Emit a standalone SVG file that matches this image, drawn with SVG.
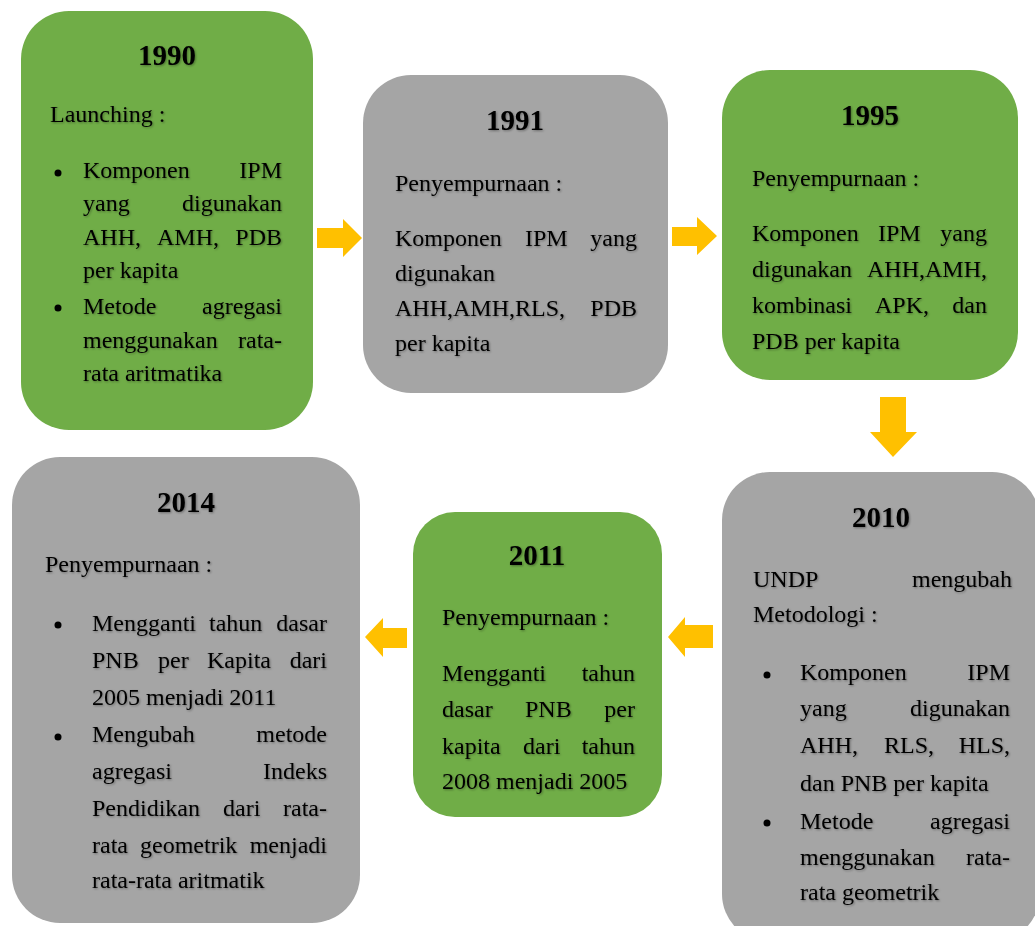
<svg xmlns="http://www.w3.org/2000/svg" width="1035" height="926" viewBox="0 0 1035 926">
<defs>
<style>
.g{fill:#70AD47}
.s{fill:#A5A5A5}
.t{font-family:"Liberation Serif","Times New Roman",serif;font-size:24px;fill:#000;filter:url(#sh)}
.h{font-weight:bold;font-size:29px;text-anchor:middle}
.r{text-anchor:end}
.a{fill:#FFC000}
</style>
<filter id="sh" x="-10%" y="-30%" width="120%" height="160%">
<feDropShadow dx="1" dy="1" stdDeviation="0.8" flood-color="#000" flood-opacity="0.35"/>
</filter>
</defs>
<rect width="1035" height="926" fill="#fff"/>

<g id="n1990">
<rect class="g" x="21" y="11" width="292" height="419" rx="48"/>
<text class="t h" x="167" y="65">1990</text>
<text class="t" x="50" y="122">Launching :</text>
<circle cx="58" cy="173" r="3.5"/>
<text class="t" x="83" y="178">Komponen</text><text class="t r" x="282" y="178">IPM</text>
<text class="t" x="83" y="211">yang</text><text class="t r" x="282" y="211">digunakan</text>
<text class="t" x="83" y="245">AHH,</text><text class="t" x="157" y="245">AMH,</text><text class="t r" x="282" y="245">PDB</text>
<text class="t" x="83" y="278">per kapita</text>
<circle cx="58" cy="308" r="3.5"/>
<text class="t" x="83" y="314">Metode</text><text class="t r" x="282" y="314">agregasi</text>
<text class="t" x="83" y="348">menggunakan</text><text class="t r" x="282" y="348">rata-</text>
<text class="t" x="83" y="381">rata aritmatika</text>
</g>

<g id="n1991">
<rect class="s" x="363" y="75" width="305" height="318" rx="48"/>
<text class="t h" x="515" y="130">1991</text>
<text class="t" x="395" y="191">Penyempurnaan :</text>
<text class="t" x="395" y="246">Komponen</text><text class="t" x="525" y="246">IPM</text><text class="t r" x="637" y="246">yang</text>
<text class="t" x="395" y="281">digunakan</text>
<text class="t" x="395" y="316">AHH,AMH,RLS,</text><text class="t r" x="637" y="316">PDB</text>
<text class="t" x="395" y="351">per kapita</text>
</g>

<g id="n1995">
<rect class="g" x="722" y="70" width="296" height="310" rx="48"/>
<text class="t h" x="870" y="125">1995</text>
<text class="t" x="752" y="186">Penyempurnaan :</text>
<text class="t" x="752" y="241">Komponen</text><text class="t" x="878" y="241">IPM</text><text class="t r" x="987" y="241">yang</text>
<text class="t" x="752" y="277">digunakan</text><text class="t r" x="987" y="277">AHH,AMH,</text>
<text class="t" x="752" y="313">kombinasi</text><text class="t" x="875" y="313">APK,</text><text class="t r" x="987" y="313">dan</text>
<text class="t" x="752" y="349">PDB per kapita</text>
</g>

<g id="n2010">
<rect class="s" x="722" y="472" width="318" height="470" rx="48"/>
<text class="t h" x="881" y="527">2010</text>
<text class="t" x="753" y="587">UNDP</text><text class="t r" x="1012" y="587">mengubah</text>
<text class="t" x="753" y="622">Metodologi :</text>
<circle cx="767" cy="675" r="3.5"/>
<text class="t" x="800" y="680">Komponen</text><text class="t r" x="1010" y="680">IPM</text>
<text class="t" x="800" y="716">yang</text><text class="t r" x="1010" y="716">digunakan</text>
<text class="t" x="800" y="753">AHH,</text><text class="t" x="884" y="753">RLS,</text><text class="t r" x="1010" y="753">HLS,</text>
<text class="t" x="800" y="791">dan PNB per kapita</text>
<circle cx="767" cy="823" r="3.5"/>
<text class="t" x="800" y="829">Metode</text><text class="t r" x="1010" y="829">agregasi</text>
<text class="t" x="800" y="865">menggunakan</text><text class="t r" x="1010" y="865">rata-</text>
<text class="t" x="800" y="900">rata geometrik</text>
</g>

<g id="n2011">
<rect class="g" x="413" y="512" width="249" height="305" rx="42"/>
<text class="t h" x="537" y="565">2011</text>
<text class="t" x="442" y="625">Penyempurnaan :</text>
<text class="t" x="442" y="681">Mengganti</text><text class="t r" x="635" y="681">tahun</text>
<text class="t" x="442" y="717">dasar</text><text class="t" x="525" y="717">PNB</text><text class="t r" x="635" y="717">per</text>
<text class="t" x="442" y="754">kapita</text><text class="t" x="523" y="754">dari</text><text class="t r" x="635" y="754">tahun</text>
<text class="t" x="442" y="789">2008 menjadi 2005</text>
</g>

<g id="n2014">
<rect class="s" x="12" y="457" width="348" height="466" rx="48"/>
<text class="t h" x="186" y="512">2014</text>
<text class="t" x="45" y="572">Penyempurnaan :</text>
<circle cx="58" cy="625" r="3.5"/>
<text class="t" x="92" y="631">Mengganti</text><text class="t" x="209" y="631">tahun</text><text class="t r" x="327" y="631">dasar</text>
<text class="t" x="92" y="668">PNB</text><text class="t" x="158" y="668">per</text><text class="t" x="207" y="668">Kapita</text><text class="t r" x="327" y="668">dari</text>
<text class="t" x="92" y="705">2005 menjadi 2011</text>
<circle cx="58" cy="737" r="3.5"/>
<text class="t" x="92" y="742">Mengubah</text><text class="t r" x="327" y="742">metode</text>
<text class="t" x="92" y="779">agregasi</text><text class="t r" x="327" y="779">Indeks</text>
<text class="t" x="92" y="816">Pendidikan</text><text class="t" x="223" y="816">dari</text><text class="t r" x="327" y="816">rata-</text>
<text class="t" x="92" y="853">rata</text><text class="t" x="140" y="853">geometrik</text><text class="t r" x="327" y="853">menjadi</text>
<text class="t" x="92" y="888">rata-rata aritmatik</text>
</g>

<g id="connectors">
<polygon class="a" points="317,228 343,228 343,219 362,238 343,257 343,248 317,248"/>
<polygon class="a" points="672,227 697,227 697,217 717,236 697,255 697,246 672,246"/>
<polygon class="a" points="880,397 906,397 906,432 917,432 893,457 870,432 880,432"/>
<polygon class="a" points="713,625 685,625 685,617 668,637 685,657 685,648 713,648"/>
<polygon class="a" points="407,628 383,628 383,618 365,637 383,657 383,648 407,648"/>
</g>
</svg>
